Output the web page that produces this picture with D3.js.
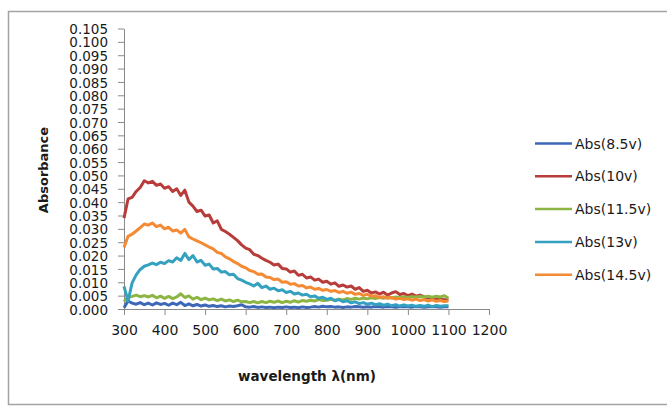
<!DOCTYPE html>
<html>
<head>
<meta charset="utf-8">
<script src="https://cdn.jsdelivr.net/npm/d3@7"></script>
<style>
  body { margin: 0; background: #fff; }
  text { font-family: "DejaVu Sans", sans-serif; fill: #1a1a1a; }
</style>
</head>
<body>
<div id="chart"></div>
<script>
// wavelength grid (nm)
var wavelengths = [
  300, 310, 320, 330, 340, 350, 360, 370, 380, 390,
  400, 410, 420, 430, 440, 450, 460, 470, 480, 490,
  500, 510, 520, 530, 540, 550, 560, 570, 580, 590,
  600, 610, 620, 630, 640, 650, 660, 670, 680, 690,
  700, 710, 720, 730, 740, 750, 760, 770, 780, 790,
  800, 810, 820, 830, 840, 850, 860, 870, 880, 890,
  900, 910, 920, 930, 940, 950, 960, 970, 980, 990,
  1000, 1010, 1020, 1030, 1040, 1050, 1060, 1070, 1080, 1090,
  1100
];

var abs85 = [
  0.0005, 0.0030, 0.0022, 0.0018, 0.0024, 0.0016, 0.0022, 0.0015, 0.0023, 0.0017,
  0.0021, 0.0014, 0.0022, 0.0016, 0.0025, 0.0013, 0.0019, 0.0012, 0.0017, 0.0011,
  0.0015, 0.0010, 0.0013, 0.0009, 0.0012, 0.0008, 0.0011, 0.0009, 0.0012, 0.0016,
  0.0008, 0.0007, 0.0009, 0.0006, 0.0008, 0.0006, 0.0007, 0.0005, 0.0007, 0.0006,
  0.0008, 0.0006, 0.0007, 0.0005, 0.0008, 0.0006, 0.0007, 0.0009, 0.0007, 0.0010,
  0.0008, 0.0009, 0.0007, 0.0008, 0.0006, 0.0008, 0.0007, 0.0009, 0.0008, 0.0007,
  0.0008, 0.0007, 0.0009, 0.0008, 0.0007, 0.0009, 0.0008, 0.0007, 0.0008, 0.0009,
  0.0008, 0.0007, 0.0009, 0.0008, 0.0007, 0.0008, 0.0009, 0.0008, 0.0007, 0.0008,
  0.0008
];

var abs10 = [
  0.0340, 0.0412, 0.0418, 0.0440, 0.0455, 0.0480, 0.0472, 0.0478, 0.0463, 0.0468,
  0.0452, 0.0458, 0.0440, 0.0450, 0.0425, 0.0445, 0.0400, 0.0385, 0.0365, 0.0370,
  0.0348, 0.0352, 0.0322, 0.0330, 0.0298, 0.0290, 0.0280, 0.0268, 0.0256, 0.0240,
  0.0228, 0.0222, 0.0205, 0.0200, 0.0190, 0.0182, 0.0175, 0.0165, 0.0168, 0.0152,
  0.0150, 0.0138, 0.0142, 0.0126, 0.0130, 0.0116, 0.0120, 0.0108, 0.0112, 0.0100,
  0.0104, 0.0093, 0.0098, 0.0085, 0.0090, 0.0082, 0.0086, 0.0074, 0.0080, 0.0066,
  0.0070, 0.0060, 0.0064, 0.0056, 0.0063, 0.0052, 0.0060, 0.0065, 0.0054, 0.0058,
  0.0050, 0.0056, 0.0048, 0.0052, 0.0045, 0.0042, 0.0040, 0.0038, 0.0037, 0.0035,
  0.0036
];

var abs115 = [
  0.0028, 0.0045, 0.0047, 0.0052, 0.0046, 0.0050, 0.0045, 0.0051, 0.0042, 0.0048,
  0.0040, 0.0047, 0.0039, 0.0045, 0.0057, 0.0043, 0.0049, 0.0037, 0.0044, 0.0035,
  0.0041, 0.0034, 0.0038, 0.0031, 0.0037, 0.0030, 0.0034, 0.0028, 0.0033, 0.0027,
  0.0028, 0.0024, 0.0028, 0.0023, 0.0028, 0.0024, 0.0029, 0.0025, 0.0030, 0.0024,
  0.0029, 0.0025, 0.0031, 0.0026, 0.0032, 0.0029, 0.0033, 0.0030, 0.0035, 0.0032,
  0.0033, 0.0036, 0.0033, 0.0037, 0.0034, 0.0039, 0.0036, 0.0040, 0.0037, 0.0041,
  0.0038, 0.0042, 0.0039, 0.0043, 0.0040, 0.0044, 0.0041, 0.0045, 0.0042, 0.0046,
  0.0043, 0.0046, 0.0045, 0.0047, 0.0045, 0.0048, 0.0044, 0.0048, 0.0045, 0.0050,
  0.0040
];

var abs13 = [
  0.0085, 0.0030, 0.0098, 0.0128, 0.0148, 0.0160, 0.0165, 0.0172, 0.0166, 0.0175,
  0.0170, 0.0181, 0.0176, 0.0192, 0.0182, 0.0208, 0.0185, 0.0200, 0.0176, 0.0182,
  0.0164, 0.0168, 0.0150, 0.0152, 0.0138, 0.0140, 0.0128, 0.0130, 0.0114, 0.0108,
  0.0100, 0.0094, 0.0086, 0.0096, 0.0080, 0.0086, 0.0074, 0.0078, 0.0068, 0.0072,
  0.0062, 0.0066, 0.0056, 0.0060, 0.0052, 0.0055, 0.0046, 0.0049, 0.0040, 0.0044,
  0.0036, 0.0040, 0.0031, 0.0035, 0.0027, 0.0031, 0.0023, 0.0027, 0.0020, 0.0024,
  0.0018, 0.0022, 0.0016, 0.0020, 0.0014, 0.0018, 0.0012, 0.0016, 0.0011, 0.0015,
  0.0011, 0.0014, 0.0010, 0.0013, 0.0010, 0.0014, 0.0009, 0.0013, 0.0010, 0.0012,
  0.0012
];

var abs145 = [
  0.0230, 0.0272, 0.0280, 0.0292, 0.0305, 0.0318, 0.0314, 0.0322, 0.0308, 0.0314,
  0.0300, 0.0306, 0.0292, 0.0296, 0.0284, 0.0298, 0.0270, 0.0262, 0.0255, 0.0248,
  0.0240, 0.0232, 0.0225, 0.0212, 0.0208, 0.0195, 0.0188, 0.0178, 0.0170, 0.0160,
  0.0154, 0.0144, 0.0140, 0.0130, 0.0131, 0.0120, 0.0118, 0.0110, 0.0112, 0.0100,
  0.0102, 0.0093, 0.0095, 0.0086, 0.0088, 0.0079, 0.0082, 0.0074, 0.0077, 0.0070,
  0.0073, 0.0066, 0.0069, 0.0062, 0.0066, 0.0059, 0.0063, 0.0055, 0.0058, 0.0051,
  0.0055, 0.0048, 0.0050, 0.0043, 0.0046, 0.0040, 0.0043, 0.0037, 0.0040, 0.0035,
  0.0038, 0.0033, 0.0037, 0.0032, 0.0035, 0.0030, 0.0034, 0.0029, 0.0032, 0.0028,
  0.0030
];

var seriesNames = ["Abs(8.5v)", "Abs(10v)", "Abs(11.5v)", "Abs(13v)", "Abs(14.5v)"];
var seriesValues = [abs85, abs10, abs115, abs13, abs145];
var colors = ["#3d68b8", "#b83c3a", "#8db543", "#35a1c0", "#f48a34"];

var xTicks = [300, 400, 500, 600, 700, 800, 900, 1000, 1100, 1200];
var yTicks = d3.range(0, 22).map(d => d * 0.005);

var svgWidth = 667;
var svgHeight = 407;

var svg = d3.select("#chart")
    .append("svg")
    .attr("width", svgWidth)
    .attr("height", svgHeight);

// outer chart border
svg.append("rect")
    .attr("x", 8.5)
    .attr("y", 11.5)
    .attr("width", 680)
    .attr("height", 393)
    .attr("fill", "none")
    .attr("stroke", "#a3a3a3")
    .attr("stroke-width", 1.5);

var xScale = d3.scaleLinear()
    .domain([300, 1200])
    .range([124, 489]);

var yScale = d3.scaleLinear()
    .domain([0, 0.105])
    .range([309, 28.5]);

//axes
var bottomAxis = d3.axisBottom(xScale)
    .tickValues(xTicks)
    .tickSize(6)
    .tickSizeOuter(0)
    .tickFormat(d3.format("d"));

var leftAxis = d3.axisLeft(yScale)
    .tickValues(yTicks)
    .tickSize(6)
    .tickSizeOuter(0)
    .tickFormat(d3.format(".3f"));

var xAxisG = svg.append("g")
    .attr("transform", `translate(0, ${yScale(0)})`)
    .call(bottomAxis);

xAxisG.selectAll("text")
    .attr("y", 26)
    .attr("dy", 0)
    .style("font-size", "14px");

var yAxisG = svg.append("g")
    .attr("transform", `translate(${xScale(300)}, 0)`)
    .call(leftAxis);

yAxisG.selectAll("text")
    .attr("x", -16)
    .attr("dy", "0.38em")
    .style("font-size", "13.5px");

svg.selectAll(".domain, .tick line")
    .attr("stroke", "#8a8a8a")
    .attr("stroke-width", 1);

// series lines
var line = d3.line()
    .x((d, i) => xScale(wavelengths[i]))
    .y(d => yScale(d));

svg.selectAll(".series")
    .data(seriesValues)
    .enter()
    .append("path")
    .attr("class", "series")
    .attr("d", d => line(d))
    .attr("fill", "none")
    .attr("stroke", (d, i) => colors[i])
    .attr("stroke-width", 3)
    .attr("stroke-linejoin", "round");

// axis titles
svg.append("text")
    .attr("x", 307)
    .attr("y", 381)
    .attr("text-anchor", "middle")
    .style("font-size", "13.5px")
    .style("font-weight", "bold")
    .text("wavelength λ(nm)");

svg.append("text")
    .attr("transform", "translate(48, 170) rotate(-90)")
    .attr("text-anchor", "middle")
    .style("font-size", "13px")
    .style("font-weight", "bold")
    .text("Absorbance");

// legend
var legend = svg.selectAll(".legend")
    .data(seriesNames)
    .enter()
    .append("g")
    .attr("class", "legend")
    .attr("transform", (d, i) => `translate(535, ${143.5 + i * 32.8})`);

legend.append("line")
    .attr("x1", 0)
    .attr("x2", 37)
    .attr("stroke", (d, i) => colors[i])
    .attr("stroke-width", 2.5);

legend.append("text")
    .attr("x", 40)
    .attr("dy", "0.36em")
    .style("font-size", "14px")
    .text(d => d);
</script>
</body>
</html>
